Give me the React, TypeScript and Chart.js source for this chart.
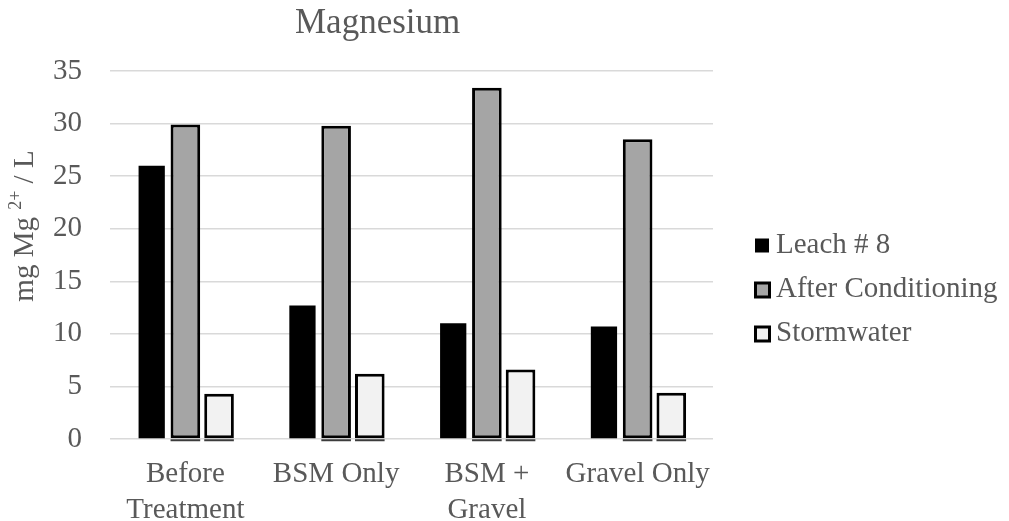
import React, { useEffect, useRef } from "react";
import { Chart, registerables } from "chart.js";

Chart.register(...registerables);

// Magnesium concentration per treatment stage (mg Mg2+ / L)
const categories: (string | string[])[] = [
  ["Before", "Treatment"],
  "BSM Only",
  ["BSM +", "Gravel"],
  "Gravel Only",
];
const leach8 = [26.0, 12.7, 11.0, 10.7];
const afterConditioning = [29.9, 29.8, 33.4, 28.5];
const stormwater = [4.3, 6.2, 6.6, 4.4];
const seriesNames = ["Leach # 8", "After Conditioning", "Stormwater"];
const seriesFills = ["#000000", "#A5A5A5", "#F2F2F2"];
const yMin = 0;
const yMax = 35;
const yStep = 5;
const chartTitle = "Magnesium";
const yTitleMain = "mg Mg ";
const yTitleSup = "2+";
const yTitleTail = " / L";

const SERIF = "'Liberation Serif', 'Times New Roman', serif";
const TEXT = "#595959";

const titlePlugin = {
  id: "chartTitleText",
  afterDraw(chart: Chart) {
    const ctx = chart.ctx;
    ctx.save();
    ctx.font = `35px ${SERIF}`;
    ctx.fillStyle = TEXT;
    ctx.textAlign = "left";
    ctx.textBaseline = "alphabetic";
    ctx.fillText(chartTitle, 295, 33);
    ctx.restore();
  },
};

const yTitlePlugin = {
  id: "yTitleText",
  afterDraw(chart: Chart) {
    const ctx = chart.ctx;
    ctx.save();
    const mainFont = `29px ${SERIF}`;
    const supFont = `18px ${SERIF}`;
    ctx.font = mainFont;
    const w1 = ctx.measureText(yTitleMain).width;
    const w3 = ctx.measureText(yTitleTail).width;
    ctx.font = supFont;
    const w2 = ctx.measureText(yTitleSup).width;
    const total = w1 + w2 + w3;
    ctx.translate(33, 226);
    ctx.rotate(-Math.PI / 2);
    ctx.fillStyle = TEXT;
    ctx.textBaseline = "alphabetic";
    ctx.textAlign = "left";
    let x = -total / 2;
    ctx.font = mainFont;
    ctx.fillText(yTitleMain, x, 0);
    x += w1;
    ctx.font = supFont;
    ctx.fillText(yTitleSup, x, -12);
    x += w2;
    ctx.font = mainFont;
    ctx.fillText(yTitleTail, x, 0);
    ctx.restore();
  },
};

const legendPlugin = {
  id: "sideLegend",
  afterDraw(chart: Chart) {
    const ctx = chart.ctx;
    ctx.save();
    const baselines = [252.5, 296.5, 340.5];
    ctx.font = `29px ${SERIF}`;
    ctx.textAlign = "left";
    ctx.textBaseline = "alphabetic";
    seriesNames.forEach((name, i) => {
      const b = baselines[i];
      if (i === 0) {
        ctx.fillStyle = seriesFills[0];
        ctx.fillRect(755, b - 14, 14, 14);
      } else {
        ctx.fillStyle = "#000000";
        ctx.fillRect(754, b - 15, 17, 17);
        ctx.fillStyle = seriesFills[i];
        ctx.fillRect(757, b - 12, 11, 11);
      }
      ctx.fillStyle = TEXT;
      ctx.fillText(name, 776, b);
    });
    ctx.restore();
  },
};

// thin dark shadow line beneath the outlined bars
const underlinePlugin = {
  id: "barUnderline",
  afterDatasetsDraw(chart: Chart) {
    const ctx = chart.ctx;
    ctx.save();
    ctx.strokeStyle = "#3C3C3C";
    ctx.lineWidth = 2;
    [1, 2].forEach((di) => {
      const meta = chart.getDatasetMeta(di);
      meta.data.forEach((el: any) => {
        const { x, width, base } = el.getProps(["x", "width", "base"], true);
        ctx.beginPath();
        ctx.moveTo(x - width / 2, base + 2);
        ctx.lineTo(x + width / 2, base + 2);
        ctx.stroke();
      });
    });
    ctx.restore();
  },
};

export default function App() {
  const canvasRef = useRef<HTMLCanvasElement | null>(null);

  useEffect(() => {
    const canvas = canvasRef.current;
    if (!canvas) return;
    const chart = new Chart(canvas, {
      type: "bar",
      data: {
        labels: categories,
        datasets: [
          {
            label: seriesNames[0],
            data: leach8,
            backgroundColor: seriesFills[0],
            borderWidth: 0,
            barPercentage: 0.78,
            categoryPercentage: 0.67,
          },
          {
            label: seriesNames[1],
            data: afterConditioning,
            backgroundColor: seriesFills[1],
            borderColor: "#000000",
            borderWidth: 3,
            borderSkipped: false,
            barPercentage: 0.88,
            categoryPercentage: 0.67,
          },
          {
            label: seriesNames[2],
            data: stormwater,
            backgroundColor: seriesFills[2],
            borderColor: "#000000",
            borderWidth: 3,
            borderSkipped: false,
            barPercentage: 0.88,
            categoryPercentage: 0.67,
          },
        ],
      },
      options: {
        responsive: false,
        animation: false,
        devicePixelRatio: 1,
        layout: { padding: { top: 71, right: 296, bottom: 0, left: 54 } },
        plugins: {
          legend: { display: false },
          title: { display: false },
          tooltip: { enabled: false },
        },
        scales: {
          x: {
            grid: { display: false },
            border: { display: false },
            ticks: {
              color: TEXT,
              font: { family: SERIF, size: 29, lineHeight: 1.22 },
              padding: 10,
              maxRotation: 0,
              autoSkip: false,
            },
            afterFit: (scale: any) => {
              scale.height = 82;
            },
          },
          y: {
            min: yMin,
            max: yMax,
            grid: {
              color: "#D9D9D9",
              lineWidth: 1.5,
              drawTicks: false,
            },
            border: { display: false },
            ticks: {
              stepSize: yStep,
              color: TEXT,
              font: { family: SERIF, size: 29 },
              padding: 28,
            },
            afterFit: (scale: any) => {
              scale.width = 56;
            },
          },
        },
      },
      plugins: [underlinePlugin, titlePlugin, yTitlePlugin, legendPlugin],
    });
    return () => chart.destroy();
  }, []);

  return (
    <div
      style={{
        position: "absolute",
        left: 0,
        top: 0,
        width: 1009,
        height: 521,
        overflow: "hidden",
        background: "#FFFFFF",
      }}
    >
      <canvas ref={canvasRef} width={1009} height={521} style={{ display: "block" }} />
    </div>
  );
}
